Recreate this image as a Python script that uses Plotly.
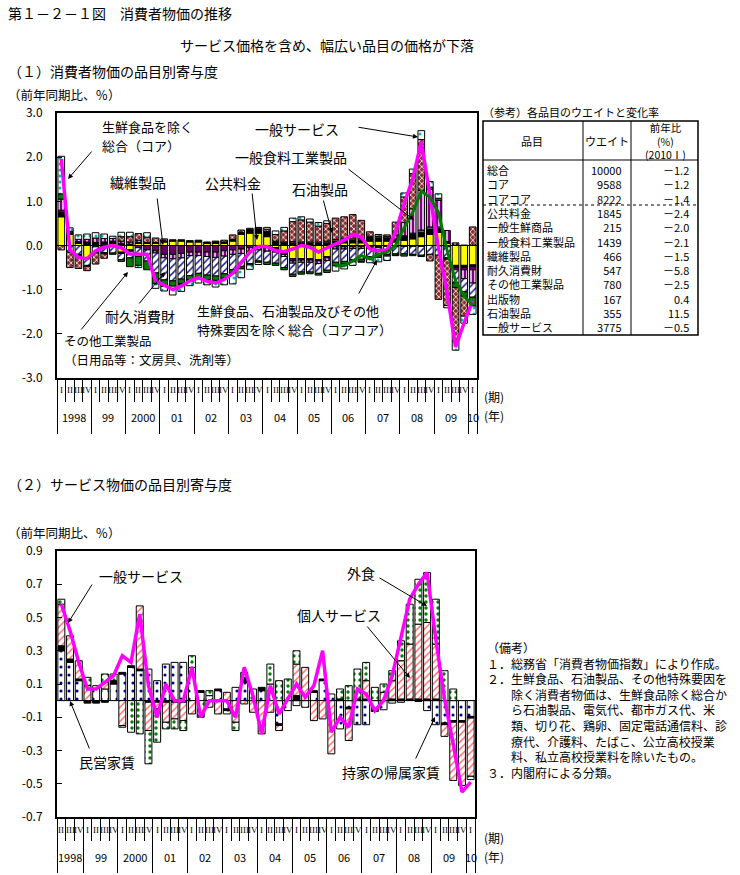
import plotly.graph_objects as go

W, H = 740, 875
FONT = "Noto Sans CJK JP"

# ---------------- Top chart data (1998 I ... 2010 I), contributions, %pt ----------------
top_years = ["1998", "99", "2000", "01", "02", "03", "04", "05", "06", "07", "08", "09", "10"]
roman = ["I", "II", "III", "IV"]

public_fee = [.65, .25, .05, -.3, .02, .03, .05, -.15, -.1, .05, .05, .05,
              .08, .1, .1, .08, .08, .05, .05, .05, .1, .25, .28, .28,
              .2, -.05, -.15, -.3, -.3, -.3, -.32, -.25, .05, .06, .06, .06,
              .1, .1, .1, .08, .12, .15, .2, .25, .3, .05, -.45, -.45, -.44]
fresh_goods = [.10, .02, .04, .06, .05, .05, .05, .05, .03, .02, .02, .02,
               .02, .03, .03, .03, .04, .03, .03, .03, .04, .05, .08, .1,
               .12, .08, .06, .06, .05, .05, .05, .06, .05, .05, .05, .05,
               .08, .07, .07, .05, .08, .1, .1, .12, .08, .02, -.05, -.05, -.04]
publications = [0, 0, 0, 0, 0, 0, 0, 0, 0, 0, 0, 0,
                0, 0, 0, 0, 0, 0, 0, 0, 0, 0, 0, 0,
                0, .02, .02, .03, .03, .03, .03, .04, .04, .04, .04, .04,
                .03, .03, .03, .02, .02, .03, .05, .05, .04, .02, .01, .01, .01]
textiles = [.05, .02, 0, .02, -.03, -.02, -.02, -.03, -.03, -.05, -.1, -.12,
            -.2, -.2, -.18, -.15, -.15, -.15, -.15, -.12, -.1, -.08, -.05, -.05,
            -.05, -.05, -.05, -.05, -.03, -.03, -.03, -.03, -.03, -.03, -.03, -.03,
            -.02, -.02, -.02, -.02, -.02, -.02, -.02, 0, 0, -.03, -.05, -.05, -.07]
processed_food = [.25, .03, .05, .06, .1, .08, .06, .05, .05, .05, 0, -.05,
                  -.08, -.1, -.1, -.08, -.08, -.1, -.12, -.12, -.1, -.1, -.08, -.05,
                  -.08, -.05, -.05, -.05, -.05, -.05, -.06, -.06, -.05, -.05, -.04, -.04,
                  -.03, -.03, 0, .08, .3, .55, .9, .85, .6, .25, .05, -.2, -.3]
durables = [0, -.15, -.2, -.15, -.12, -.14, -.15, -.14, -.15, -.2, -.25, -.45,
            -.5, -.5, -.48, -.45, -.4, -.42, -.42, -.4, -.35, -.3, -.28, -.25,
            -.25, -.25, -.25, -.25, -.22, -.22, -.22, -.22, -.3, -.28, -.25, -.24,
            -.2, -.18, -.18, -.17, -.17, -.18, -.2, -.2, -.22, -.25, -.3, -.3, -.32]
other_industrial = [.12, 0, -.02, -.02, -.02, -.03, -.03, -.04, -.2, -.2, -.2, -.25,
                    -.15, -.12, -.1, -.1, -.1, -.1, -.1, -.1, -.07, -.05, -.03, -.03,
                    -.05, -.05, -.05, -.05, -.05, -.04, -.04, -.05, -.08, -.06, -.05, -.05,
                    -.04, -.04, -.04, -.03, -.05, -.03, -.03, .05, .05, -.03, -.1, -.1, -.2]
petroleum = [-.1, -.35, -.3, -.1, -.25, -.1, 0, .1, .12, .15, .12, .1,
             .05, 0, -.03, -.03, -.02, 0, .02, .04, .1, .05, .03, .03,
             .05, .15, .25, .45, .5, .45, .36, .4, .48, .5, .55, .42,
             .1, .05, .04, .3, .58, .8, 1.15, -.15, -1.0, -1.05, -1.22, -.45, .41]
general_services = [.85, .08, .1, .12, .12, .1, .05, .1, .1, -.05, .1, -.1,
                    -.1, -.2, -.15, -.1, -.1, -.12, -.15, -.15, -.25, -.2, -.1, -.05,
                    .04, .08, .08, .08, .07, .07, .08, .06, -.12, -.11, -.08, -.02,
                    -.1, -.1, -.1, -.01, .09, .1, .2, .13, .1, -.05, -.2, -.16, -.19]
core = [1.96, -0.1, -0.27, -0.3, -0.12, -0.04, 0.0, -0.05, -0.19, -0.2, -0.2, -0.8,
        -0.9, -1.0, -0.92, -0.8, -0.73, -0.81, -0.85, -0.77, -0.63, -0.38, -0.15, -0.02,
        -0.02, -0.12, -0.14, -0.08, 0.0, -0.04, -0.15, -0.05, 0.04, 0.12, 0.25, 0.19,
        -0.08, -0.12, -0.1, 0.3, 0.95, 1.5, 2.35, 1.1, -0.05, -1.05, -2.3, -1.75, -1.25]
core_core = [None] * 32 + [-0.46, -0.46, -0.35, -0.23, -0.3, -0.2, -0.15, 0.0,
                           0.4, 0.75, 1.23, 1.1, 0.75, -0.1, -0.8, -1.15, -1.35]

# ---------------- Reference table ----------------
table_items = ["総合", "コア", "コアコア", "公共料金", "一般生鮮商品", "一般食料工業製品",
               "繊維製品", "耐久消費財", "その他工業製品", "出版物", "石油製品", "一般サービス"]
table_weights = [10000, 9588, 8222, 1845, 215, 1439, 466, 547, 780, 167, 355, 3775]
table_changes = [-1.2, -1.2, -1.4, -2.4, -2.0, -2.1, -1.5, -5.8, -2.5, 0.4, 11.5, -0.5]

# ---------------- Bottom chart data (1998 II ... 2010 I) ----------------
bottom_years = ["1998", "99", "2000", "01", "02", "03", "04", "05", "06", "07", "08", "09", "10"]
owner_rent = [.30, .23, .12, 0, .09, .07, .10, .16, .20, .18, .19, .12,
              .22, .23, .23, .20, .05, .03, .06, -.05, .08, .11, 0, .06,
              .10, -.14, -.06, -.03, -.04, .05, .12, .04, -.17, -.04, -.145, -.145,
              -.055, -.055, -.015, -.01, 0, -.005, -.06, -.145, -.135, -.12, -.12, -.095]
private_rent = [.03, .02, .01, -.015, -.015, -.01, .02, .01, .01, .01, -.01, -.01,
                -.01, -.01, -.01, 0, .01, 0, .01, -.01, 0, .03, 0, .02,
                0, -.01, 0, .03, 0, .01, .01, 0, .01, -.01, .01, .01,
                -.01, 0, .01, .01, .01, .01, .01, .01, -.01, -.01, -.01, -.01]
personal_services = [.25, .14, .11, .09, 0, .04, 0, -.15, 0, .38, -.17, -.04,
                     -.12, -.1, -.11, -.08, 0, -.04, -.08, .05, -.13, -.02, -.07, -.2,
                     -.07, -.03, 0, .19, .2, -.12, -.11, -.32, 0, -.19, 0, .11,
                     0, .05, .11, .23, .33, .45, .46, .33, -.07, -.35, -.38, -.35]
eating_out = [.03, 0, 0, .05, 0, .05, .04, -.01, -.19, -.2, -.2, -.2,
              -.04, -.06, -.06, .07, -.1, .03, 0, -.02, -.05, .03, .07, 0,
              .12, .12, .13, .08, 0, 0, 0, 0, .06, .09, .18, .11,
              .08, .05, .06, .12, .24, .27, .3, .27, .18, .07, 0, -.02]
services_total = [.58, .42, .23, .07, .07, .11, .15, .27, .23, .52, .09, -.1,
                  .1, 0, 0, .2, -.1, 0, 0, 0, -.1, .2, .03, -.2,
                  .09, -.08, .01, .1, .02, .09, .3, -.19, -.1, -.16, .07, .04,
                  -.06, 0, .15, .37, .61, .7, .77, .37, .01, -.26, -.55, -.49]

notes = ["（備考）",
         "１．総務省「消費者物価指数」により作成。",
         "２．生鮮食品、石油製品、その他特殊要因を",
         "　　除く消費者物価は、生鮮食品除く総合か",
         "　　ら石油製品、電気代、都市ガス代、米",
         "　　類、切り花、鶏卵、固定電話通信料、診",
         "　　療代、介護料、たばこ、公立高校授業",
         "　　料、私立高校授業料を除いたもの。",
         "３．内閣府による分類。"]


def nz(vals):
    return [None if (v is None or v == 0) else v for v in vals]


def P(x, y):
    return x / W, 1 - y / H


fig = go.Figure()

n_top = len(core)
xt = list(range(n_top))
top_series = [
    ("公共料金", public_fee, dict(color="#FFFF00")),
    ("一般生鮮商品", fresh_goods, dict(color="#000000")),
    ("出版物", publications, dict(color="#808080")),
    ("繊維製品", textiles, dict(color="#660066")),
    ("一般食料工業製品", processed_food,
     dict(color="#800080", pattern=dict(shape="|", fgcolor="#FFFFFF", bgcolor="#800080",
                                        size=4, solidity=0.35, fillmode="replace"))),
    ("耐久消費財", durables,
     dict(color="#FFFFFF", pattern=dict(shape="/", fgcolor="#1A1A8C", bgcolor="#FFFFFF",
                                        size=5, solidity=0.3, fillmode="replace"))),
    ("その他工業製品", other_industrial, dict(color="#007A00")),
    ("石油製品", petroleum,
     dict(color="#8B2E2E", pattern=dict(shape="x", fgcolor="#FFFFFF", bgcolor="#8B2E2E",
                                        size=4, solidity=0.35, fillmode="replace"))),
    ("一般サービス", general_services,
     dict(color="#FFFFFF", pattern=dict(shape=".", fgcolor="#00BBBB", bgcolor="#FFFFFF",
                                        size=6, solidity=0.2, fillmode="replace"))),
]
for name, vals, mk in top_series:
    mk = dict(mk)
    mk["line"] = dict(color="black", width=1)
    fig.add_trace(go.Bar(x=xt, y=nz(vals), name=name, marker=mk, width=0.78,
                         xaxis="x", yaxis="y"))
fig.add_trace(go.Scatter(x=xt, y=core, mode="lines", name="コア",
                         line=dict(color="#FF00FF", width=3.5), xaxis="x", yaxis="y"))
fig.add_trace(go.Scatter(x=xt, y=core_core, mode="lines", name="コアコア",
                         line=dict(color="#007A00", width=3), xaxis="x", yaxis="y"))

n_bot = len(services_total)
xb = list(range(n_bot))
bottom_series = [
    ("持家の帰属家賃", owner_rent,
     dict(color="#FFFFFF", pattern=dict(shape=".", fgcolor="#00008B", bgcolor="#FFFFFF",
                                        size=8, solidity=0.12, fillmode="replace"))),
    ("民営家賃", private_rent, dict(color="#000000")),
    ("個人サービス", personal_services,
     dict(color="#FFFFFF", pattern=dict(shape="/", fgcolor="#FF7070", bgcolor="#FFFFFF",
                                        size=5, solidity=0.3, fillmode="replace"))),
    ("外食", eating_out,
     dict(color="#FFFFFF", pattern=dict(shape=".", fgcolor="#008000", bgcolor="#FFFFFF",
                                        size=6, solidity=0.25, fillmode="replace"))),
]
for name, vals, mk in bottom_series:
    mk = dict(mk)
    mk["line"] = dict(color="black", width=1)
    fig.add_trace(go.Bar(x=xb, y=nz(vals), name=name, marker=mk, width=0.8,
                         xaxis="x2", yaxis="y2"))
fig.add_trace(go.Scatter(x=xb, y=services_total, mode="lines", name="一般サービス",
                         line=dict(color="#FF00FF", width=3.5), xaxis="x2", yaxis="y2"))

# ---------------- axes ----------------
top_dom_x = [57 / W, 477 / W]
top_dom_y = [1 - 378 / H, 1 - 113 / H]
bot_dom_x = [57 / W, 475 / W]
bot_dom_y = [1 - 817 / H, 1 - 551 / H]

top_bounds = [i - 0.5 for i in range(n_top + 1)]
top_year_bounds = [-0.5] + [4 * k - 0.5 for k in range(1, 13)] + [n_top - 0.5]
# bottom starts at 1998 II
bot_bounds = [j - 0.5 for j in range(n_bot + 1)]
bot_year_bounds = [-0.5] + [2.5 + 4 * k for k in range(12)] + [n_bot - 0.5]

common_x = dict(showline=True, mirror=True, linewidth=2, linecolor="black",
                showgrid=False, zeroline=False, showticklabels=False, automargin=False,
                ticks="outside", tickcolor="black", tickwidth=1, ticklen=54)
fig.update_layout(
    xaxis=dict(domain=top_dom_x, range=[-0.5, n_top - 0.5], anchor="y",
               tickvals=top_year_bounds,
               minor=dict(tickvals=top_bounds, ticks="outside", ticklen=22,
                          tickcolor="black", tickwidth=1),
               **common_x),
    xaxis2=dict(domain=bot_dom_x, range=[-0.5, n_bot - 0.5], anchor="y2",
                tickvals=bot_year_bounds,
                minor=dict(tickvals=bot_bounds, ticks="outside", ticklen=22,
                           tickcolor="black", tickwidth=1),
                **common_x),
)

top_ticks = [-3, -2, -1, 0, 1, 2, 3]
bot_ticks = [-0.7, -0.5, -0.3, -0.1, 0.1, 0.3, 0.5, 0.7, 0.9]
common_y = dict(showline=True, mirror=True, linewidth=2, linecolor="black",
                showgrid=False, zeroline=True, zerolinecolor="black", zerolinewidth=1,
                ticks="inside", ticklen=5, tickcolor="black", automargin=False,
                tickfont=dict(family=FONT, size=12, color="black"),
                ticklabelstandoff=10)
fig.update_layout(
    yaxis=dict(domain=top_dom_y, range=[-3, 3], anchor="x", tickvals=top_ticks,
               ticktext=[f"{v:.1f}" for v in top_ticks], **common_y),
    yaxis2=dict(domain=bot_dom_y, range=[-0.7, 0.9], anchor="x2", tickvals=bot_ticks,
                ticktext=[f"{v:.1f}" for v in bot_ticks], **common_y),
)

ann = []
shapes = []


def label(text, x, y, size=14, xanchor="left", family=FONT, align="left"):
    px_, py_ = P(x, y)
    ann.append(dict(text=text, x=px_, y=py_, xref="paper", yref="paper",
                    xanchor=xanchor, yanchor="middle", showarrow=False, align=align,
                    font=dict(family=family, size=size, color="black")))


def arrow(x0, y0, x1, y1):
    px_, py_ = P(x1, y1)
    ann.append(dict(text="", x=px_, y=py_, xref="paper", yref="paper",
                    ax=x0 - x1, ay=y0 - y1, axref="pixel", ayref="pixel",
                    showarrow=True, arrowhead=2, arrowsize=1, arrowwidth=1,
                    arrowcolor="black"))


# quarter and year labels
for i in xt:
    ann.append(dict(text=roman[i % 4], x=i, y=1 - 390 / H, xref="x", yref="paper",
                    showarrow=False, yanchor="middle",
                    font=dict(family="Liberation Serif", size=9, color="black")))
for k, yl in enumerate(top_years):
    cx = 4 * k + 1.5 if k < 12 else n_top - 1
    ann.append(dict(text=yl, x=cx, y=1 - 417 / H, xref="x", yref="paper",
                    showarrow=False, yanchor="middle",
                    font=dict(family=FONT, size=11, color="black")))
for j in xb:
    ann.append(dict(text=roman[(j + 1) % 4], x=j, y=1 - 830 / H, xref="x2", yref="paper",
                    showarrow=False, yanchor="middle",
                    font=dict(family="Liberation Serif", size=9, color="black")))
for k, yl in enumerate(bottom_years):
    if k == 0:
        cx = 1
    elif k < 12:
        cx = 4 * k + 0.5
    else:
        cx = n_bot - 1
    ann.append(dict(text=yl, x=cx, y=1 - 857 / H, xref="x2", yref="paper",
                    showarrow=False, yanchor="middle",
                    font=dict(family=FONT, size=11, color="black")))
label("(期)", 482, 396, size=12)
label("(年)", 482, 415, size=12)
label("(期)", 482, 837, size=12)
label("(年)", 482, 856, size=12)

# titles
label("第１－２－１図　消費者物価の推移", 6, 13, size=14)
label("サービス価格を含め、幅広い品目の価格が下落", 476, 45, size=14, xanchor="right")
label("（１）消費者物価の品目別寄与度", 6, 71, size=14)
label("（前年同期比、％）", 6, 94, size=12.5)
label("（２）サービス物価の品目別寄与度", 6, 484, size=14)
label("（前年同期比、％）", 6, 532, size=12.5)

# top chart callouts
label("生鮮食品を除く", 100, 127, size=13)
label("総合（コア）", 100, 146, size=13)
arrow(93, 150, 68, 179)
label("繊維製品", 108, 182)
arrow(157, 197, 163, 245)
label("公共料金", 203, 183)
arrow(252, 192, 257, 240)
label("一般サービス", 253, 129)
arrow(357, 127, 418, 137)
label("一般食料工業製品", 233, 157)
arrow(347, 168, 414, 220)
label("石油製品", 290, 189)
arrow(323, 199, 332, 233)
label("生鮮食品、石油製品及びその他", 195, 310, size=13)
label("特殊要因を除く総合（コアコア）", 195, 329, size=13)
arrow(358, 295, 377, 260)
label("耐久消費財", 103, 316)
arrow(138, 305, 165, 272)
label("その他工業製品", 62, 341, size=12.5)
label("（日用品等：文房具、洗剤等）", 62, 359, size=12.5)
arrow(80, 331, 128, 272)

# bottom chart callouts
label("一般サービス", 97, 576)
arrow(93, 583, 68, 623)
label("民営家賃", 77, 762)
arrow(90, 750, 70, 701)
label("外食", 345, 573)
arrow(378, 577, 427, 606)
label("個人サービス", 295, 615)
arrow(366, 625, 410, 678)
label("持家の帰属家賃", 340, 772)
arrow(415, 760, 435, 717)

# reference table
label("（参考）各品目のウエイトと変化率", 481, 112, size=11)
tx0, tx1, ty0, ty1 = 483, 698, 121, 335
c1, c2 = 583, 631
hy = 160
dy = 205


def pline(x0, y0, x1, y1, width=1, dash="solid"):
    a = P(x0, y0)
    b = P(x1, y1)
    shapes.append(dict(type="line", xref="paper", yref="paper", x0=a[0], y0=a[1],
                       x1=b[0], y1=b[1], line=dict(color="black", width=width, dash=dash)))


a0 = P(tx0, ty0)
a1 = P(tx1, ty1)
shapes.append(dict(type="rect", xref="paper", yref="paper", x0=a0[0], y0=a0[1],
                   x1=a1[0], y1=a1[1], line=dict(color="black", width=1.5)))
pline(c1, ty0, c1, ty1)
pline(c2, ty0, c2, ty1)
pline(tx0, hy, tx1, hy)
pline(tx0, dy, tx1, dy, dash="dot")

label("品目", 532, 141, size=11, xanchor="center")
label("ウエイト", 607, 141, size=11, xanchor="center")
label("前年比<br>(%)<br>(2010Ⅰ)", 665, 141, size=10.5, xanchor="center", align="center")

row_y0, row_dy = 170, 14.3
n_rows = len(table_items)
mid_y = row_y0 + (n_rows - 1) * row_dy / 2
label("<br>".join(table_items), 485, mid_y, size=11)
label("<br>".join(str(w) for w in table_weights), 624, mid_y, size=11,
      xanchor="right", align="right")
label("<br>".join(f"{c:.1f}".replace("-", "－") for c in table_changes), 691, mid_y,
      size=11, xanchor="right", align="right")

# notes
label("<br>".join(notes), 485, 648 + (len(notes) - 1) * 15.6 / 2, size=12)

fig.update_layout(
    width=W, height=H, margin=dict(l=0, r=0, t=0, b=0, autoexpand=False),
    paper_bgcolor="white", plot_bgcolor="white",
    barmode="relative", bargap=0.2, showlegend=False,
    font=dict(family=FONT, color="black"),
    annotations=ann, shapes=shapes,
)

fig.write_html("out.html", config={"displayModeBar": False},
               post_script="document.body.style.margin='0';document.body.style.overflow='hidden';")
